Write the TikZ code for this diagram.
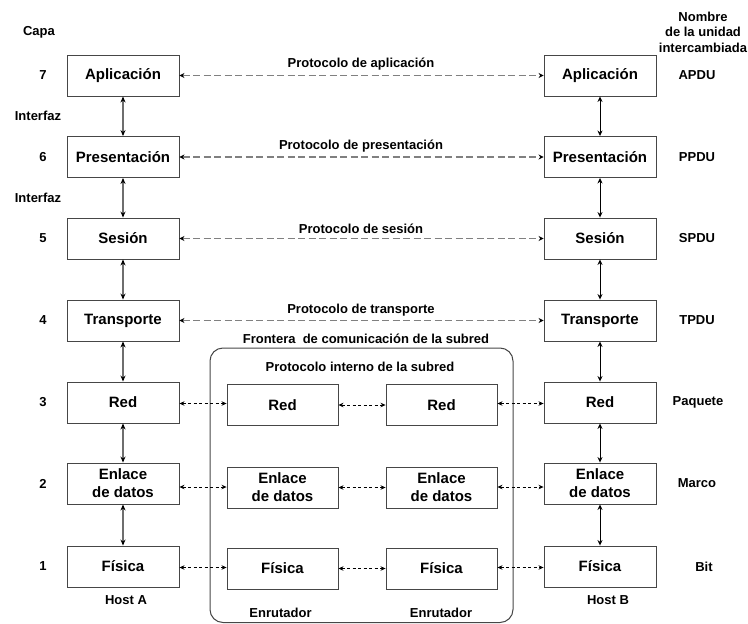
\documentclass[tikz,border=0pt]{standalone}
\usepackage{fontspec}
\setmainfont{Liberation Sans}
\usetikzlibrary{arrows.meta}
\definecolor{lgray}{RGB}{110,110,110}
\definecolor{pgray}{RGB}{128,128,128}
\definecolor{bgray}{RGB}{70,70,70}
\tikzset{
 layerbox/.style={draw=bgray, line width=0.9pt, minimum width=112pt, minimum height=41pt, inner sep=0pt, align=center, font=\fontsize{15}{18}\selectfont\bfseries},
 midbox/.style={layerbox, minimum width=111pt},
 lbl/.style={font=\fontsize{13}{15.5}\selectfont\bfseries, inner sep=0pt, align=center},
 vleft/.style={draw=lgray, line width=1.5pt, {Stealth[length=6pt,width=5pt,color=black]}-{Stealth[length=6pt,width=5pt,color=black]}},
 vright/.style={draw=black, line width=0.9pt, {Stealth[length=5.5pt,width=5pt]}-{Stealth[length=5.5pt,width=5pt]}},
 proto/.style={draw=pgray, line width=1.1pt, dash pattern=on 7pt off 3.5pt, {Stealth[length=5pt,width=5pt,color=black]}-{Stealth[length=5pt,width=5pt,color=black]}},
 peer/.style={draw=black, line width=0.8pt, dash pattern=on 3pt off 2.5pt, {Stealth[length=5pt,width=4.5pt]}-{Stealth[length=5pt,width=4.5pt]}},
}
\begin{document}
\begin{tikzpicture}[x=1pt,y=-1pt]
\useasboundingbox (0,0) rectangle (748,624);
% subnet boundary
\draw[draw=bgray, line width=1pt, rounded corners=13pt] (210,348) rectangle (513,622.5);
% left host
\node[layerbox] (L7) at (123,75.5) {Aplicación};
\node[layerbox] (L6) at (123,157) {Presentación};
\node[layerbox] (L5) at (123,238.5) {Sesión};
\node[layerbox] (L4) at (123,320.5) {Transporte};
\node[layerbox] (L3) at (123,402.5) {Red};
\node[layerbox] (L2) at (123,483.5) {Enlace\\de datos};
\node[layerbox] (L1) at (123,566.5) {Física};
% right host
\node[layerbox] (R7) at (600,75.5) {Aplicación};
\node[layerbox] (R6) at (600,157) {Presentación};
\node[layerbox] (R5) at (600,238.5) {Sesión};
\node[layerbox] (R4) at (600,320.5) {Transporte};
\node[layerbox] (R3) at (600,402.5) {Red};
\node[layerbox] (R2) at (600,483.5) {Enlace\\de datos};
\node[layerbox] (R1) at (600,566.5) {Física};
% routers
\node[midbox] (A3) at (282.5,405) {Red};
\node[midbox] (A2) at (282.5,487.5) {Enlace\\de datos};
\node[midbox] (A1) at (282.5,568.5) {Física};
\node[midbox] (B3) at (441.5,405) {Red};
\node[midbox] (B2) at (441.5,487.5) {Enlace\\de datos};
\node[midbox] (B1) at (441.5,568.5) {Física};
% vertical interfaces
\draw[vleft] (L7.south) -- (L6.north);
\draw[vleft] (L6.south) -- (L5.north);
\draw[vleft] (L5.south) -- (L4.north);
\draw[vleft] (L4.south) -- (L3.north);
\draw[vleft] (L3.south) -- (L2.north);
\draw[vleft] (L2.south) -- (L1.north);
\draw[vright] (R7.south) -- (R6.north);
\draw[vright] (R6.south) -- (R5.north);
\draw[vright] (R5.south) -- (R4.north);
\draw[vright] (R4.south) -- (R3.north);
\draw[vright] (R3.south) -- (R2.north);
\draw[vright] (R2.south) -- (R1.north);
% peer protocols
\draw[proto] (L7.east) -- (R7.west);
\draw[proto] (L6.east) -- (R6.west);
\draw[proto] (L5.east) -- (R5.west);
\draw[proto] (L4.east) -- (R4.west);
\node[lbl] (p7) at (361,64) {Protocolo de aplicación};
\node[lbl] (p6) at (361,146) {Protocolo de presentación};
\node[lbl] (p5) at (361,229) {Protocolo de sesión};
\node[lbl] (p4) at (361,310) {Protocolo de transporte};
\node[lbl] (fr) at (366,338.5) {Frontera\ \ de comunicación de la subred};
\node[lbl] (pi) at (360,367) {Protocolo interno de la subred};
% hop-by-hop
\draw[peer] (L3.east |- 0,403.5) -- (A3.west |- 0,403.5);
\draw[peer] (A3.east) -- (B3.west);
\draw[peer] (B3.east |- 0,403.5) -- (R3.west |- 0,403.5);
\draw[peer] (L2.east |- 0,487) -- (A2.west |- 0,487);
\draw[peer] (A2.east) -- (B2.west);
\draw[peer] (B2.east |- 0,487) -- (R2.west |- 0,487);
\draw[peer] (L1.east |- 0,567.5) -- (A1.west |- 0,567.5);
\draw[peer] (A1.east) -- (B1.west);
\draw[peer] (B1.east |- 0,567.5) -- (R1.west |- 0,567.5);
% side labels
\node[lbl] (capa) at (39,32) {Capa};
\node[lbl] (n7) at (43,75.5) {7};
\node[lbl] (if1) at (38,116) {Interfaz};
\node[lbl] (n6) at (43,157) {6};
\node[lbl] (if2) at (38,198) {Interfaz};
\node[lbl] (n5) at (43,238.5) {5};
\node[lbl] (n4) at (43,320.5) {4};
\node[lbl] (n3) at (43,402.5) {3};
\node[lbl] (n2) at (43,483.5) {2};
\node[lbl] (n1) at (43,566.5) {1};
\node[lbl] (nom) at (703,32) {Nombre\\de la unidad\\intercambiada};
\node[lbl] (u7) at (697,75.5) {APDU};
\node[lbl] (u6) at (697,157) {PPDU};
\node[lbl] (u5) at (697,238.5) {SPDU};
\node[lbl] (u4) at (697,320.5) {TPDU};
\node[lbl] (u3) at (698,402.5) {Paquete};
\node[lbl] (u2) at (697,483.5) {Marco};
\node[lbl] (u1) at (704,566.5) {Bit};
\node[lbl] (ha) at (126,600) {Host A};
\node[lbl] (hb) at (608,600) {Host B};
\node[lbl] (e1) at (280.5,613) {Enrutador};
\node[lbl] (e2) at (441,613) {Enrutador};
\end{tikzpicture}
\end{document}
